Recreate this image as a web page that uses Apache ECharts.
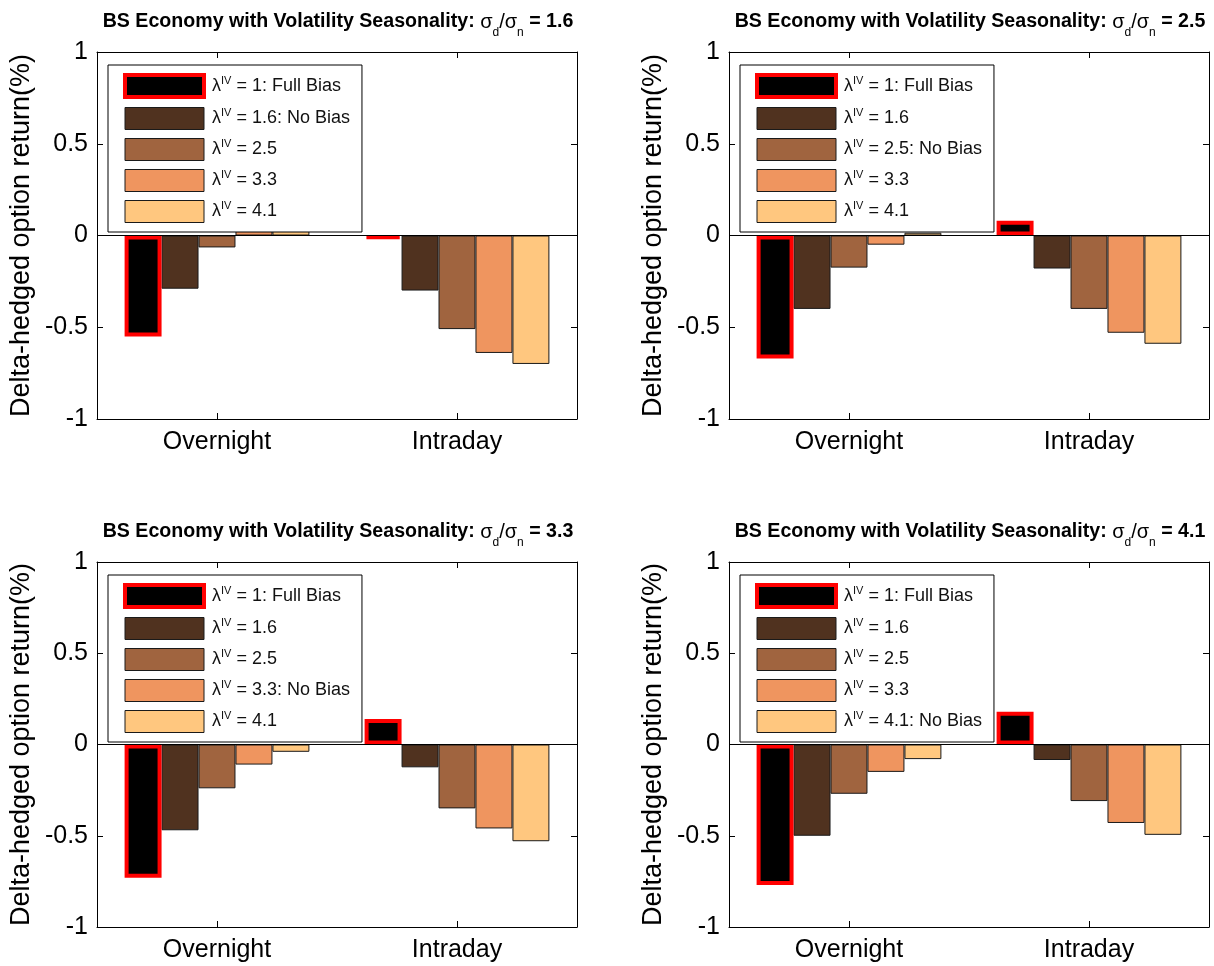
<!DOCTYPE html>
<html>
<head>
<meta charset="utf-8">
<script src="https://cdn.jsdelivr.net/npm/echarts@6/dist/echarts.min.js"></script>
<style>
html,body{margin:0;padding:0;background:#fff;}
#c{width:1214px;height:966px;}
</style>
</head>
<body>
<div id="c"></div>
<script>
const categories = ['Overnight', 'Intraday'];
const ratios = ['1.6', '2.5', '3.3', '4.1'];
const yTicks = [-1, -0.5, 0, 0.5, 1];

const names1 = ['1: Full Bias', '1.6: No Bias', '2.5', '3.3', '4.1'];
const names2 = ['1: Full Bias', '1.6', '2.5: No Bias', '3.3', '4.1'];
const names3 = ['1: Full Bias', '1.6', '2.5', '3.3: No Bias', '4.1'];
const names4 = ['1: Full Bias', '1.6', '2.5', '3.3', '4.1: No Bias'];

// each row: [Overnight, Intraday]
const vals1 = [[-0.55, -0.02], [-0.29, -0.30], [-0.065, -0.51], [0.06, -0.64], [0.06, -0.70]];
const vals2 = [[-0.67, 0.08], [-0.40, -0.18], [-0.175, -0.40], [-0.05, -0.53], [0.015, -0.59]];
const vals3 = [[-0.73, 0.14], [-0.47, -0.125], [-0.24, -0.35], [-0.11, -0.46], [-0.04, -0.53]];
const vals4 = [[-0.77, 0.18], [-0.50, -0.085], [-0.27, -0.31], [-0.15, -0.43], [-0.08, -0.495]];

const colors = ['#000000', '#50321F', '#A0643F', '#EF955F', '#FFC77F'];

const panelNames = [names1, names2, names3, names4];
const panelVals = [vals1, vals2, vals3, vals4];

const FONT = '"Liberation Sans", Arial, Helvetica, sans-serif';
const grids = [
  {left: 97, top: 52, width: 480, height: 367},
  {left: 729, top: 52, width: 480, height: 367},
  {left: 97, top: 562, width: 480, height: 365},
  {left: 729, top: 562, width: 480, height: 365}
];

const option = {
  animation: false,
  backgroundColor: '#fff',
  textStyle: {fontFamily: FONT},
  grid: grids.map(g => Object.assign({containLabel: false}, g)),
  title: [], legend: [], xAxis: [], yAxis: [], series: []
};

grids.forEach((g, i) => {
  option.title.push({
    text: 'BS Economy with Volatility Seasonality: {s|σ}{sub|d}{s|/σ}{sub|n} = ' + ratios[i],
    left: g.left + g.width / 2 - 4,
    top: g.top - 52,
    textAlign: 'center',
    textStyle: {
      fontFamily: FONT, fontSize: 19.6, fontWeight: 'bold', color: '#000', lineHeight: 34,
      rich: {
        s: {fontFamily: FONT, fontSize: 20, fontWeight: 'normal', color: '#000', lineHeight: 34},
        sub: {fontFamily: FONT, fontSize: 12, fontWeight: 'normal', color: '#000', verticalAlign: 'bottom', lineHeight: 12}
      }
    }
  });
  option.legend.push({
    orient: 'vertical',
    left: g.left + 11,
    top: g.top + 13,
    backgroundColor: '#fff',
    borderColor: '#000',
    borderWidth: 1,
    borderRadius: 0,
    padding: [8, 12, 9, 15],
    itemWidth: 79,
    itemHeight: 22,
    itemGap: 8,
    selectedMode: false,
    icon: 'rect',
    formatter: name => 'λ{sup|IV} = ' + name,
    textStyle: {
      fontFamily: FONT, fontSize: 18, color: '#111', lineHeight: 22, padding: [0, 0, 0, 3],
      rich: {
        sup: {fontFamily: FONT, fontSize: 11, color: '#111', verticalAlign: 'top', lineHeight: 22, padding: [0, 0, 0, 0]}
      }
    },
    data: panelNames[i].map((n, k) => ({
      name: n,
      itemStyle: k === 0 ? {color: colors[0], borderColor: '#ff0000', borderWidth: 4}
                         : {color: colors[k], borderColor: '#1a1a1a', borderWidth: 1}
    }))
  });
  // bottom x axis (labels)
  option.xAxis.push({
    type: 'category', gridIndex: i, data: categories, position: 'bottom',
    axisLine: {show: true, onZero: false, lineStyle: {color: '#000', width: 1}},
    axisTick: {show: true, inside: true, alignWithLabel: true, length: 6, lineStyle: {color: '#000'}},
    axisLabel: {show: true, color: '#000', fontSize: 25, fontFamily: FONT, margin: 11},
    splitLine: {show: false}
  });
  // top x axis (frame)
  option.xAxis.push({
    type: 'category', gridIndex: i, data: categories, position: 'top',
    axisLine: {show: true, onZero: false, lineStyle: {color: '#000', width: 1}},
    axisTick: {show: true, inside: true, alignWithLabel: true, length: 6, lineStyle: {color: '#000'}},
    axisLabel: {show: false},
    splitLine: {show: false}
  });
  // left y axis
  option.yAxis.push({
    type: 'value', gridIndex: i, min: yTicks[0], max: yTicks[yTicks.length - 1], interval: 0.5,
    position: 'left',
    name: 'Delta-hedged option return(%)',
    nameLocation: 'middle', nameRotate: 90, nameGap: 62,
    nameTextStyle: {color: '#000', fontSize: 27, fontFamily: FONT},
    axisLine: {show: true, lineStyle: {color: '#000', width: 1}},
    axisTick: {show: true, inside: true, length: 6, lineStyle: {color: '#000'}},
    axisLabel: {show: true, color: '#000', fontSize: 25, fontFamily: FONT, margin: 9},
    splitLine: {show: false}
  });
  // right y axis (frame)
  option.yAxis.push({
    type: 'value', gridIndex: i, min: yTicks[0], max: yTicks[yTicks.length - 1], interval: 0.5,
    position: 'right',
    axisLine: {show: true, lineStyle: {color: '#000', width: 1}},
    axisTick: {show: true, inside: true, length: 6, lineStyle: {color: '#000'}},
    axisLabel: {show: false},
    splitLine: {show: false}
  });
  panelNames[i].forEach((n, k) => {
    const s = {
      type: 'bar',
      name: n,
      xAxisIndex: 2 * i,
      yAxisIndex: 2 * i,
      data: panelVals[i][k],
      barGap: '0%',
      barCategoryGap: '23%',
      z: k === 0 ? 3 : 2,
      itemStyle: k === 0 ? {color: colors[0], borderColor: '#ff0000', borderWidth: 4}
                         : {color: colors[k], borderColor: '#1a1a1a', borderWidth: 1}
    };
    if (k === 0) {
      s.markLine = {
        silent: true, symbol: 'none', label: {show: false},
        lineStyle: {color: '#000', width: 1, type: 'solid'},
        data: [{yAxis: 0}]
      };
    }
    option.series.push(s);
  });
});

const chart = echarts.init(document.getElementById('c'), null, {renderer: 'canvas'});
chart.setOption(option);
</script>
</body>
</html>
